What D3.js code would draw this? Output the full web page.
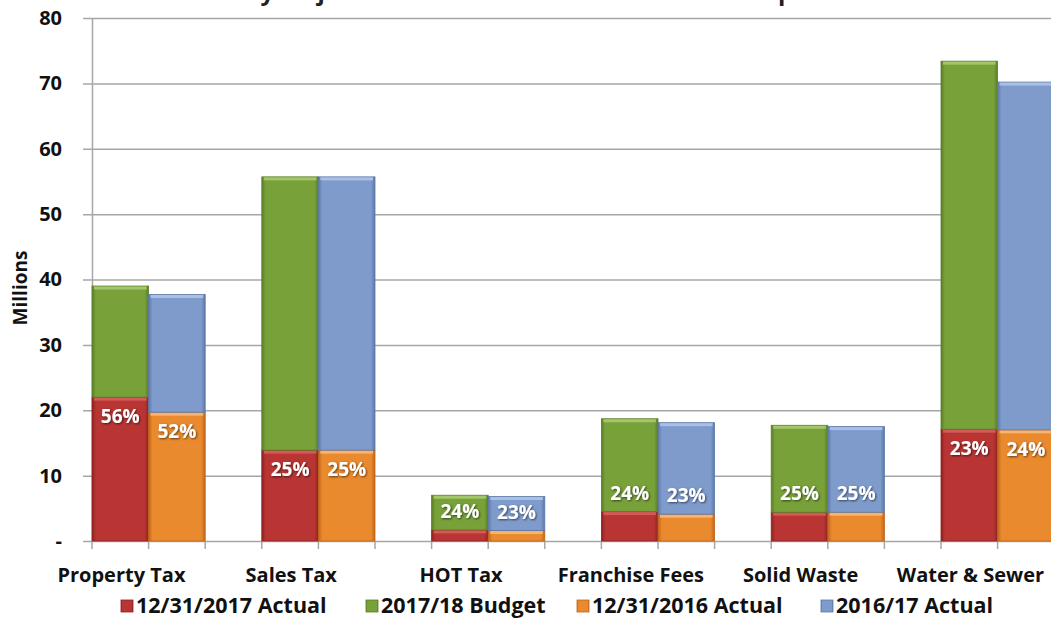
<!DOCTYPE html>
<html>
<head>
<meta charset="utf-8">
<script src="https://cdn.jsdelivr.net/npm/d3@7"></script>
<style>
  body { margin: 0; background: #fff; }
  text { font-family: "Open Sans", sans-serif; font-weight: bold; }
</style>
</head>
<body>
<div id="chart"></div>
<script>
// chart values (millions)
var categories = ["Property Tax", "Sales Tax", "HOT Tax", "Franchise Fees", "Solid Waste", "Water & Sewer"];
var actual2017 = [22.0, 13.9, 1.7, 4.5, 4.4, 17.1];
var budget1718 = [39.0, 55.7, 7.0, 18.7, 17.7, 73.4];
var actual2016 = [19.7, 13.9, 1.6, 4.1, 4.4, 17.0];
var actual1617 = [37.7, 55.7, 6.8, 18.1, 17.5, 70.2];
var pctCurrent = ["56%", "25%", "24%", "24%", "25%", "23%"];
var pctPrior = ["52%", "25%", "23%", "23%", "25%", "24%"];
var yTicks = [0, 10, 20, 30, 40, 50, 60, 70, 80];
var legendNames = ["12/31/2017 Actual", "2017/18 Budget", "12/31/2016 Actual", "2016/17 Actual"];

var colors = {
  red: ["#8e2221", "#b83533", "#d25a57"],
  green: ["#5b7e25", "#78a13a", "#a3c66a"],
  orange: ["#c0651a", "#ea8a2e", "#f7b36f"],
  blue: ["#5b78a8", "#7e9bcc", "#a9c0e4"]
};

var margin = {top: 18, right: 0, bottom: 86, left: 92},
    fullW = 1051, fullH = 627,
    height = fullH - margin.top - margin.bottom,
    slot = 56.6,
    plotW = slot * 3 * categories.length;

var svg = d3.select("#chart").append("svg")
    .attr("width", fullW)
    .attr("height", fullH);

var defs = svg.append("defs");
Object.keys(colors).forEach(function(k) {
  var c = colors[k];
  var g = defs.append("linearGradient").attr("id", "g-" + k)
      .attr("x1", "0%").attr("x2", "100%").attr("y1", "0%").attr("y2", "0%");
  g.append("stop").attr("offset", "0%").attr("stop-color", c[0]);
  g.append("stop").attr("offset", "7%").attr("stop-color", c[1]);
  g.append("stop").attr("offset", "93%").attr("stop-color", c[1]);
  g.append("stop").attr("offset", "100%").attr("stop-color", c[0]);
});
var shadow = defs.append("filter").attr("id", "ts")
    .attr("x", "-20%").attr("y", "-20%").attr("width", "140%").attr("height", "140%");
shadow.append("feDropShadow").attr("dx", 1).attr("dy", 1).attr("stdDeviation", 0.8)
    .attr("flood-color", "#000").attr("flood-opacity", 0.6);

// title (only its lowest sliver shows at the top edge in the reference)
svg.append("text")
  .attr("x", 548).attr("y", 0)
  .attr("text-anchor", "middle")
  .attr("font-size", "24px")
  .attr("fill", "#222")
  .text("City Major Revenue Sources Year-to-Date Comparison");

var g = svg.append("g")
  .attr("transform", "translate(" + margin.left + "," + margin.top + ")");

var y = d3.scaleLinear().domain([0, 80]).range([height, 0]);

var x0 = d3.scaleBand().domain(categories).range([0, plotW]).padding(0);
var x1 = d3.scaleBand().domain(["cur", "prev", "gap"]).range([0, x0.bandwidth()]).padding(0);

// gridlines
g.append("g")
  .attr("class", "grid")
  .call(d3.axisLeft(y).tickValues(yTicks).tickSize(-plotW - 9).tickFormat(""))
  .attr("transform", "translate(-9,0)")
  .call(function(s) {
    s.select(".domain").remove();
    s.selectAll("line").attr("stroke", "#a6a6a6").attr("stroke-width", 1.5);
  });

// y axis
g.append("g")
  .call(d3.axisLeft(y).tickValues(yTicks).tickSize(0).tickPadding(30)
    .tickFormat(function(d) { return d === 0 ? "-" : d; }))
  .call(function(s) {
    s.select(".domain").attr("stroke", "#a6a6a6").attr("stroke-width", 1.5);
    s.selectAll("text").attr("font-size", "20px").attr("fill", "#111")
      .style("font-family", "'Open Sans', sans-serif").style("font-weight", "bold");
  });

// x axis ticks at every slot
var slotEdges = d3.range(0, categories.length * 3 + 1).map(function(i) { return i * slot; });
g.append("g").selectAll("line")
  .data(slotEdges)
  .enter().append("line")
    .attr("x1", function(d) { return d; })
    .attr("x2", function(d) { return d; })
    .attr("y1", height)
    .attr("y2", height + 8)
    .attr("stroke", "#a6a6a6").attr("stroke-width", 1.5);

// category labels
g.append("g").selectAll("text")
  .data(categories)
  .enter().append("text")
    .attr("x", function(d) { return x0(d) + x1.bandwidth() * 0.52; })
    .attr("y", height + 41)
    .attr("text-anchor", "middle")
    .attr("font-size", "20px")
    .attr("fill", "#111")
    .text(function(d) { return d; });

// stacked bars
var segments = [];
categories.forEach(function(c, i) {
  segments.push({cat: c, sub: "cur", y0: 0, y1: actual2017[i], col: "red"});
  segments.push({cat: c, sub: "cur", y0: actual2017[i], y1: budget1718[i], col: "green"});
  segments.push({cat: c, sub: "prev", y0: 0, y1: actual2016[i], col: "orange"});
  segments.push({cat: c, sub: "prev", y0: actual2016[i], y1: actual1617[i], col: "blue"});
});

var segG = g.append("g").selectAll("g")
  .data(segments)
  .enter().append("g");

segG.append("rect")
    .attr("x", function(d) { return x0(d.cat) + x1(d.sub); })
    .attr("y", function(d) { return y(d.y1); })
    .attr("width", x1.bandwidth())
    .attr("height", function(d) { return y(d.y0) - y(d.y1); })
    .attr("fill", function(d) { return "url(#g-" + d.col + ")"; })
    .attr("stroke", function(d) { return colors[d.col][0]; })
    .attr("stroke-width", 0.8);

// bevel highlight on top of each segment
segG.append("rect")
    .attr("x", function(d) { return x0(d.cat) + x1(d.sub) + 2; })
    .attr("y", function(d) { return y(d.y1) + 0.5; })
    .attr("width", x1.bandwidth() - 4)
    .attr("height", 3)
    .attr("fill", function(d) { return colors[d.col][2]; });

// percentage labels
function labelY(lo) {
  var top = y(lo);
  var h = y(0) - y(lo);
  return h > 40 ? top + 21 : top - 17;
}
var labels = [];
categories.forEach(function(c, i) {
  labels.push({cat: c, sub: "cur", v: actual2017[i], t: pctCurrent[i]});
  labels.push({cat: c, sub: "prev", v: actual2016[i], t: pctPrior[i]});
});
g.append("g").selectAll("text")
  .data(labels)
  .enter().append("text")
    .attr("x", function(d) { return x0(d.cat) + x1(d.sub) + x1.bandwidth() / 2; })
    .attr("y", function(d) { return labelY(d.v); })
    .attr("text-anchor", "middle")
    .attr("dominant-baseline", "middle")
    .attr("font-size", "19px")
    .attr("fill", "#fff")
    .attr("filter", "url(#ts)")
    .text(function(d) { return d.t; });

// Y axis label
svg.append("text")
  .attr("text-anchor", "middle")
  .attr("transform", "rotate(-90)")
  .attr("x", -288)
  .attr("y", 27)
  .attr("font-size", "19px")
  .attr("fill", "#111")
  .text("Millions");

// legend
var legendX = [121, 366, 577, 821];
var legendCols = ["red", "green", "orange", "blue"];
var leg = svg.append("g").selectAll("g")
  .data(legendNames)
  .enter().append("g")
    .attr("transform", function(d, i) { return "translate(" + legendX[i] + ",606)"; });
leg.append("rect")
    .attr("x", 0).attr("y", -6)
    .attr("width", 12).attr("height", 12)
    .attr("fill", function(d, i) { return "url(#g-" + legendCols[i] + ")"; })
    .attr("stroke", function(d, i) { return colors[legendCols[i]][0]; })
    .attr("stroke-width", 0.8);
leg.append("text")
    .attr("x", 15).attr("y", 1)
    .attr("dominant-baseline", "middle")
    .attr("font-size", "21.5px")
    .attr("fill", "#111")
    .text(function(d) { return d; });
</script>
</body>
</html>
